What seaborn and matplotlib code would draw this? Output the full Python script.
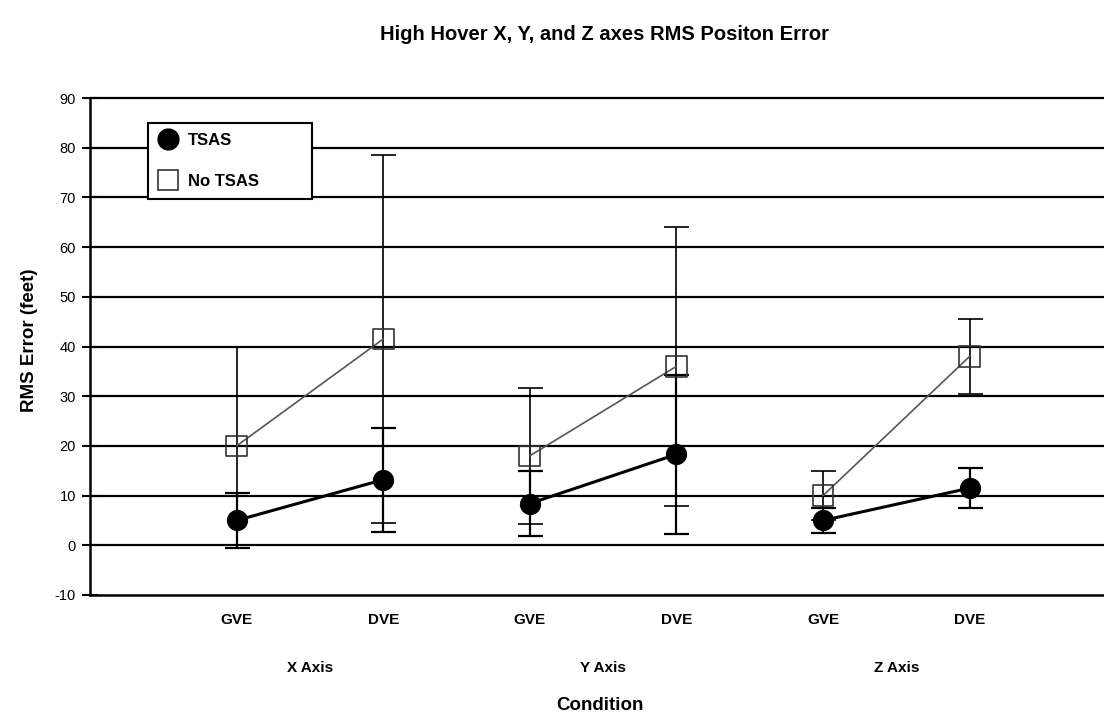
import pandas as pd
import seaborn as sns
import matplotlib.pyplot as plt
from matplotlib.lines import Line2D
from matplotlib.transforms import blended_transform_factory

# data
conditions = ["GVE", "DVE", "GVE", "DVE", "GVE", "DVE"]
axis_groups = ["X Axis", "X Axis", "Y Axis", "Y Axis", "Z Axis", "Z Axis"]
tsas_mean = [5.0, 13.2, 8.4, 18.3, 5.0, 11.5]
tsas_err = [5.5, 10.5, 6.6, 16.0, 2.5, 4.0]
notsas_mean = [20.0, 41.5, 18.0, 36.0, 10.0, 38.0]
notsas_err = [20.0, 37.0, 13.7, 28.0, 5.0, 7.5]
y_ticks = [-10, 0, 10, 20, 30, 40, 50, 60, 70, 80, 90]

df = pd.DataFrame({
    "pos": range(1, len(conditions) + 1),
    "condition": conditions,
    "group": axis_groups,
    "tsas": tsas_mean,
    "notsas": notsas_mean,
})

sns.set_style("white")
plt.rcParams["font.family"] = ["Liberation Sans", "DejaVu Sans"]
plt.rcParams["text.color"] = "black"
plt.rcParams["axes.labelcolor"] = "black"
plt.rcParams["xtick.color"] = "black"
plt.rcParams["ytick.color"] = "black"

fig = plt.figure(figsize=(11.04, 7.18), dpi=100)
ax = fig.add_axes([90 / 1104, 1 - 595 / 718, 1 - 90 / 1104, (595 - 98) / 718])

# gridlines
for t in y_ticks[1:]:
    ax.axhline(t, color="black", lw=1.6, zorder=0, clip_on=False)

# error bars
ax.errorbar(df["pos"], notsas_mean, yerr=notsas_err, fmt="none", ecolor="black",
            elinewidth=1.2, capsize=9, capthick=1.2, zorder=2)
ax.errorbar(df["pos"], tsas_mean, yerr=tsas_err, fmt="none", ecolor="black",
            elinewidth=1.6, capsize=9, capthick=1.6, zorder=2)

# connecting lines within each axis group
sns.lineplot(data=df, x="pos", y="notsas", units="group", estimator=None,
             color="#555555", lw=1.2, ax=ax, zorder=3)
sns.lineplot(data=df, x="pos", y="tsas", units="group", estimator=None,
             color="black", lw=2.2, ax=ax, zorder=3)

# markers
sns.scatterplot(data=df, x="pos", y="notsas", marker="s", s=220, facecolor="none",
                edgecolor="#333333", linewidth=1.2, ax=ax, zorder=4)
sns.scatterplot(data=df, x="pos", y="tsas", marker="o", s=200, color="black",
                edgecolor="black", ax=ax, zorder=4)

ax.set_xlim(0, (1104 - 90) / 146.6)
ax.set_ylim(-10, 90)
ax.set_yticks(y_ticks)
ax.set_yticklabels([str(t) for t in y_ticks], fontsize=10.5)
ax.tick_params(axis="y", direction="inout", length=12, width=1.5, pad=4, left=True)
ax.set_xticks(df["pos"])
ax.set_xticklabels(conditions, fontsize=11, fontweight="bold")
ax.tick_params(axis="x", length=0, pad=13)
ax.set_xlabel("")
ax.set_ylabel("")

for s in ["top", "right"]:
    ax.spines[s].set_visible(False)
for s in ["left", "bottom"]:
    ax.spines[s].set_linewidth(1.8)
    ax.spines[s].set_color("black")

# group labels under the condition labels
trans = blended_transform_factory(ax.transData, fig.transFigure)
for g in ["X Axis", "Y Axis", "Z Axis"]:
    xs = df.loc[df["group"] == g, "pos"].mean()
    ax.text(xs, 1 - 668 / 718, g, transform=trans, ha="center", va="center",
            fontsize=11, fontweight="bold")

fig.text(600 / 1104, 1 - 705 / 718, "Condition", ha="center", va="center",
         fontsize=13.5, fontweight="bold")
fig.text(30 / 1104, 1 - 340 / 718, "RMS Error (feet)", ha="center", va="center",
         rotation=90, fontsize=13.5, fontweight="bold")
fig.text(604 / 1104, 1 - 35 / 718, "High Hover X, Y, and Z axes RMS Positon Error",
         ha="center", va="center", fontsize=14.5, fontweight="bold")

handles = [
    Line2D([], [], marker="o", color="black", ls="none", markersize=15),
    Line2D([], [], marker="s", markerfacecolor="white", markeredgecolor="#333333",
           ls="none", markersize=14, markeredgewidth=1.2),
]
leg = ax.legend(handles, ["TSAS", "No TSAS"], loc="upper left",
                bbox_to_anchor=(58 / 1014, 1 - 25 / 497, 164 / 1014, 0), mode="expand",
                frameon=True, fancybox=False, edgecolor="black", framealpha=1,
                prop={"weight": "bold", "size": 12}, handletextpad=0.6,
                borderpad=0.6, labelspacing=1.55, handlelength=1.2, borderaxespad=0)
leg.set_zorder(10)
leg.get_frame().set_linewidth(1.5)

fig.savefig("out.png", dpi=100)
